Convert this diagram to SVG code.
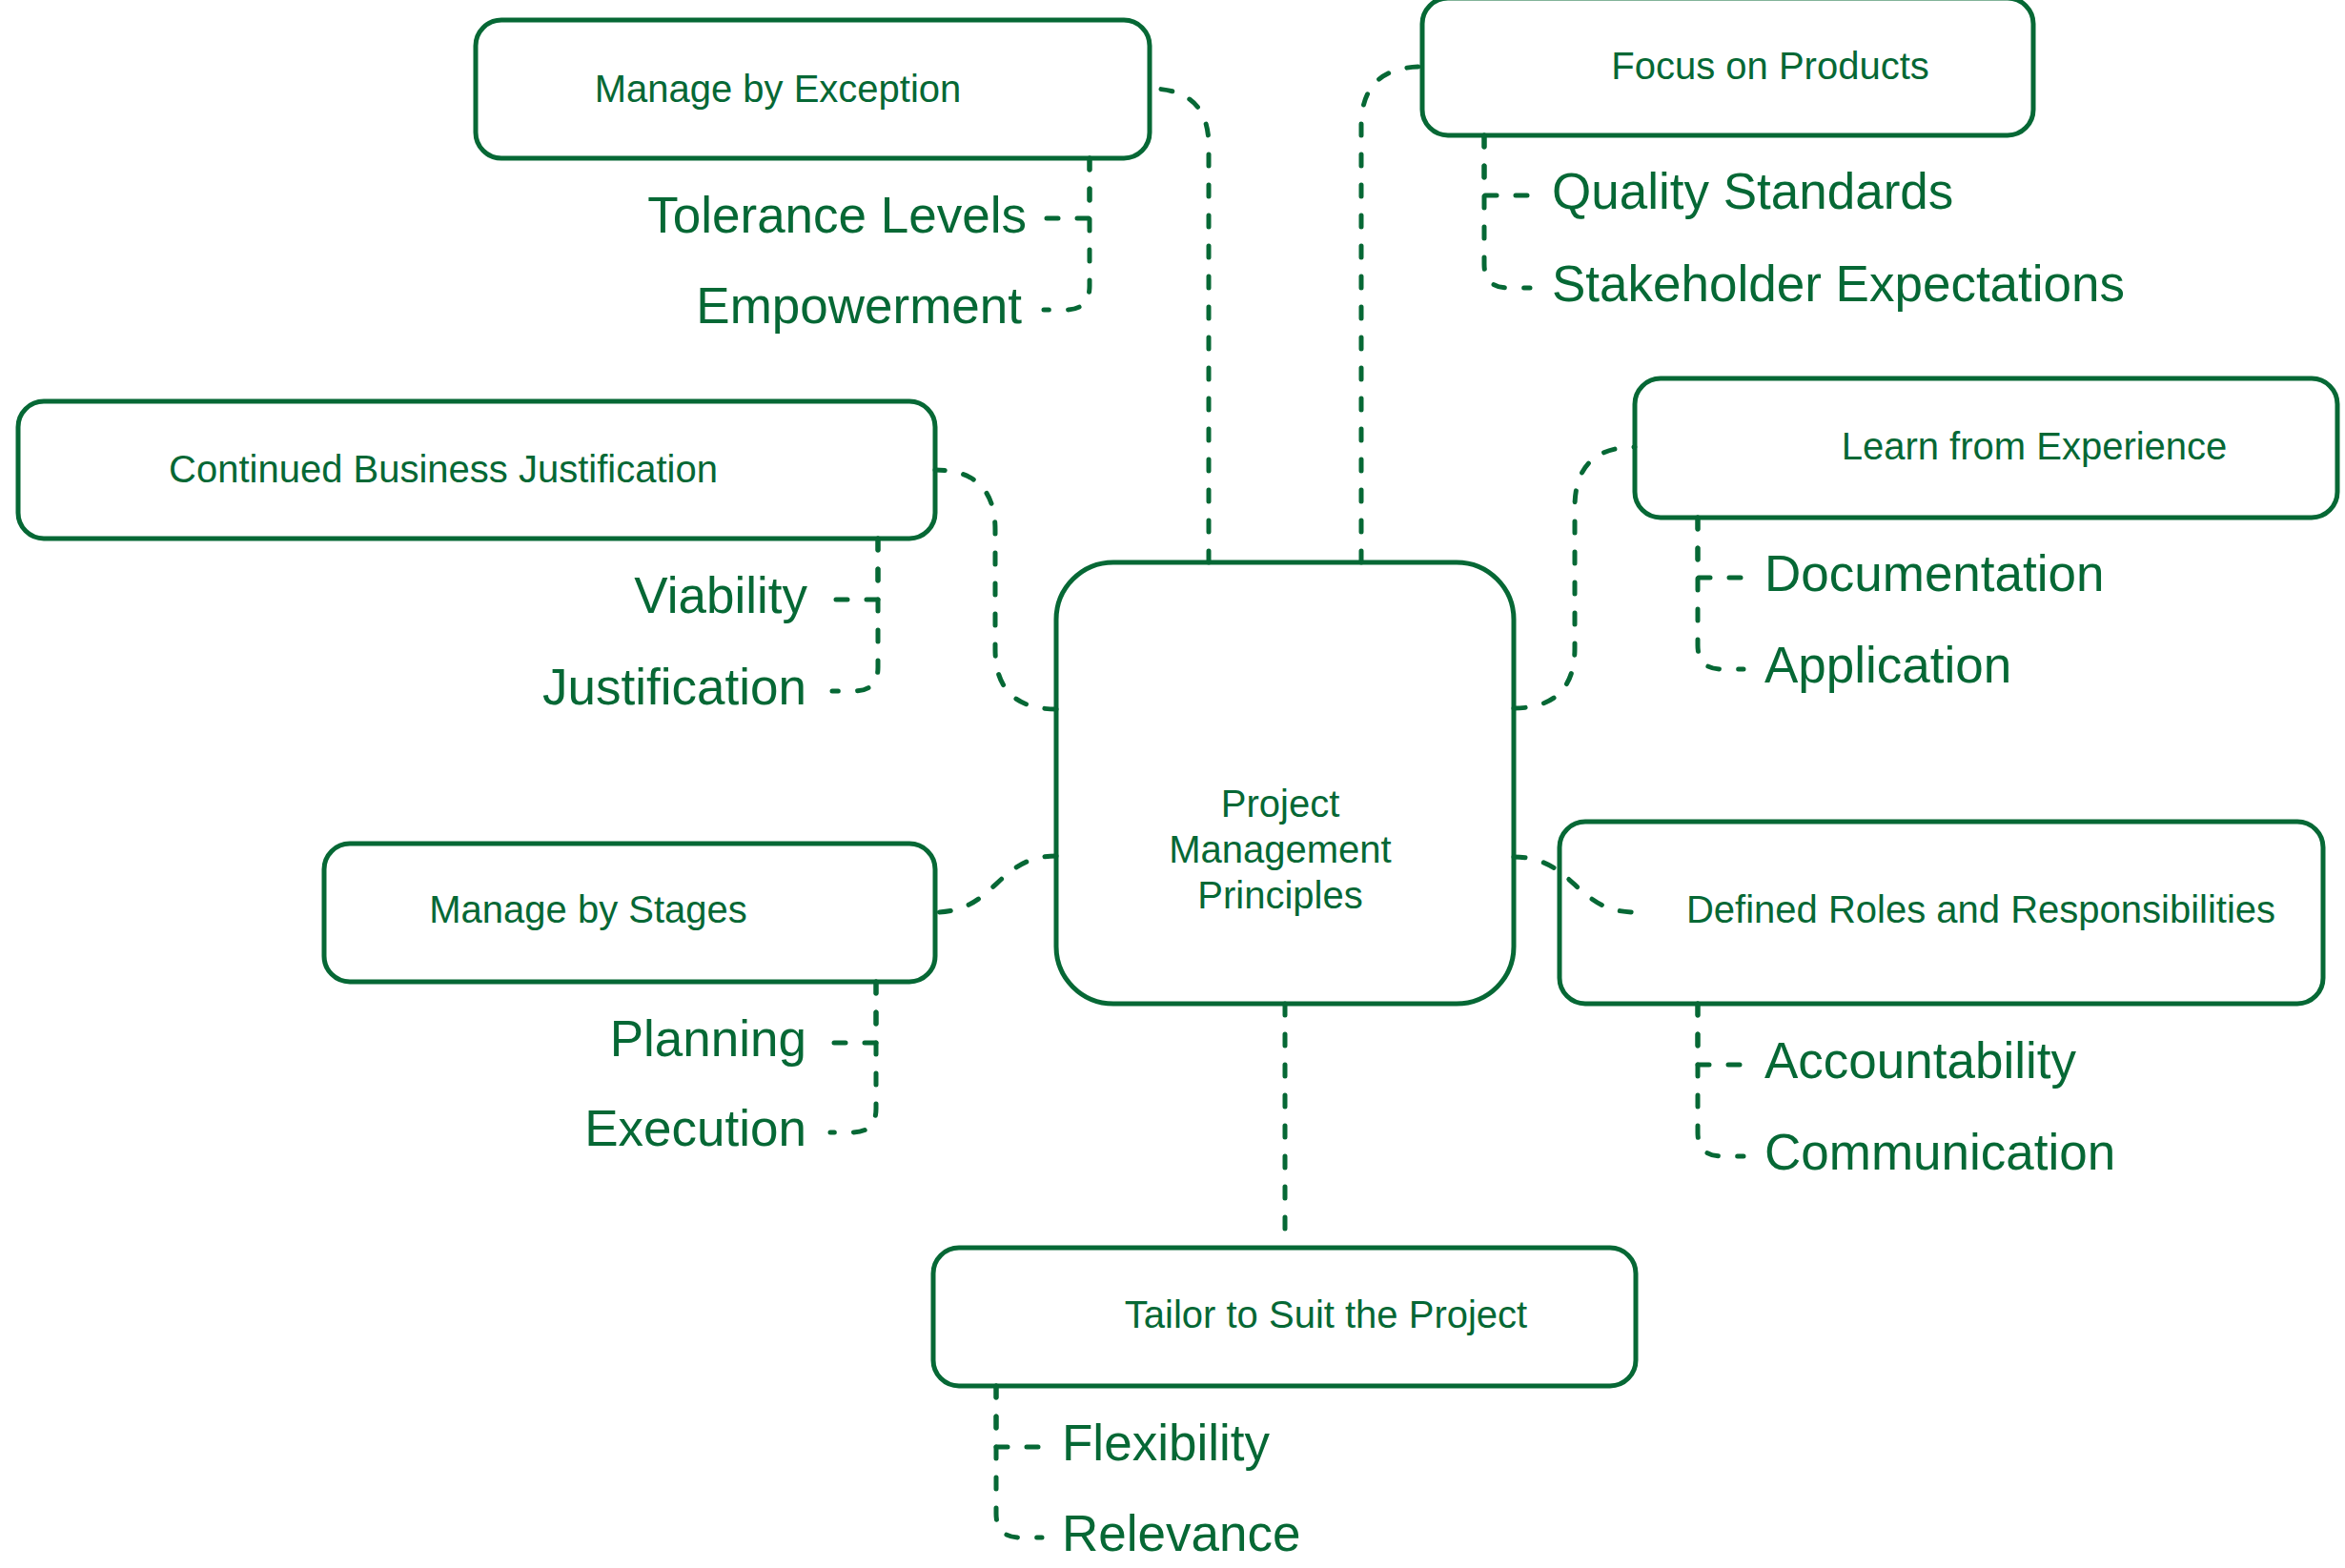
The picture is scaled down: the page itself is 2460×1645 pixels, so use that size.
<svg xmlns="http://www.w3.org/2000/svg" width="2460" height="1645" viewBox="0 0 2460 1645">
<style>
.box{fill:#ffffff;stroke:#066835;stroke-width:5}
.lbl{font-family:"Liberation Sans",Arial,sans-serif;font-size:40px;fill:#066835;text-anchor:middle}
.sub{font-family:"Liberation Sans",Arial,sans-serif;font-size:53px;fill:#066835}
.end{text-anchor:end}
.con{fill:none;stroke:#066835;stroke-width:5;stroke-linecap:round;stroke-dasharray:12 20}
</style>
<rect width="2460" height="1645" fill="#ffffff"/>
<g id="center">
<rect class="box" x="1108" y="590" width="480" height="463" rx="60" ry="60"/>
<text class="lbl" x="1343" y="857">Project</text>
<text class="lbl" x="1343" y="905">Management</text>
<text class="lbl" x="1343" y="953">Principles</text>
</g>
<g id="manage-exception">
<rect class="box" x="499" y="21" width="707" height="145" rx="27" ry="27"/>
<text class="lbl" x="816" y="107">Manage by Exception</text>
<text class="sub end" x="1077" y="244">Tolerance Levels</text>
<text class="sub end" x="1072" y="339">Empowerment</text>
</g>
<g id="focus-products">
<rect class="box" x="1492" y="-2" width="641" height="144" rx="27" ry="27"/>
<text class="lbl" x="1857" y="83">Focus on Products</text>
<text class="sub" x="1628" y="219">Quality Standards</text>
<text class="sub" x="1628" y="316">Stakeholder Expectations</text>
</g>
<g id="business-justification">
<rect class="box" x="19" y="421" width="962" height="144" rx="27" ry="27"/>
<text class="lbl" x="465" y="506">Continued Business Justification</text>
<text class="sub end" x="847" y="643">Viability</text>
<text class="sub end" x="846" y="739">Justification</text>
</g>
<g id="learn-experience">
<rect class="box" x="1715" y="397" width="737" height="146" rx="27" ry="27"/>
<text class="lbl" x="2134" y="482">Learn from Experience</text>
<text class="sub" x="1851" y="620">Documentation</text>
<text class="sub" x="1851" y="716">Application</text>
</g>
<g id="manage-stages">
<rect class="box" x="340" y="885" width="641" height="145" rx="27" ry="27"/>
<text class="lbl" x="617" y="968">Manage by Stages</text>
<text class="sub end" x="846" y="1108">Planning</text>
<text class="sub end" x="846" y="1202">Execution</text>
</g>
<g id="defined-roles">
<rect class="box" x="1636" y="862" width="801" height="191" rx="27" ry="27"/>
<text class="lbl" x="2078" y="968">Defined Roles and Responsibilities</text>
<text class="sub" x="1851" y="1131">Accountability</text>
<text class="sub" x="1851" y="1227">Communication</text>
</g>
<g id="tailor">
<rect class="box" x="979" y="1309" width="737" height="145" rx="27" ry="27"/>
<text class="lbl" x="1391" y="1393">Tailor to Suit the Project</text>
<text class="sub" x="1114" y="1532">Flexibility</text>
<text class="sub" x="1114" y="1627">Relevance</text>
</g>
<g id="connectors">
<path class="con" d="M1268,590 L1268,153 Q1268,93 1206,93"/>
<path class="con" d="M1428,590 L1428,132 Q1428,70 1492,70"/>
<path class="con" d="M1108,744 Q1044,744 1044,681 L1044,556 Q1044,493 981,493"/>
<path class="con" d="M1108,898 C1045,898 1045,957 981,957"/>
<path class="con" d="M1588,743 Q1652,743 1652,680 L1652,532 Q1652,469 1715,469"/>
<path class="con" d="M1588,899 C1652,899 1652,957 1715,957"/>
<path class="con" d="M1348,1053 L1348,1309"/>
<path class="con" d="M1557,142 L1557,205 L1605,205"/>
<path class="con" d="M1557,142 L1557,277 Q1557,302 1582,302 L1605,302"/>
<path class="con" d="M1143,166 L1143,229 L1095,229"/>
<path class="con" d="M1143,166 L1143,300 Q1143,325 1118,325 L1095,325"/>
<path class="con" d="M921,565 L921,629 L873,629"/>
<path class="con" d="M921,565 L921,700 Q921,725 896,725 L873,725"/>
<path class="con" d="M919,1030 L919,1094 L871,1094"/>
<path class="con" d="M919,1030 L919,1163 Q919,1188 894,1188 L871,1188"/>
<path class="con" d="M1781,543 L1781,606 L1829,606"/>
<path class="con" d="M1781,543 L1781,677 Q1781,702 1806,702 L1829,702"/>
<path class="con" d="M1781,1053 L1781,1117 L1829,1117"/>
<path class="con" d="M1781,1053 L1781,1188 Q1781,1213 1806,1213 L1829,1213"/>
<path class="con" d="M1045,1454 L1045,1518 L1093,1518"/>
<path class="con" d="M1045,1454 L1045,1588 Q1045,1613 1070,1613 L1093,1613"/>
</g>
</svg>
